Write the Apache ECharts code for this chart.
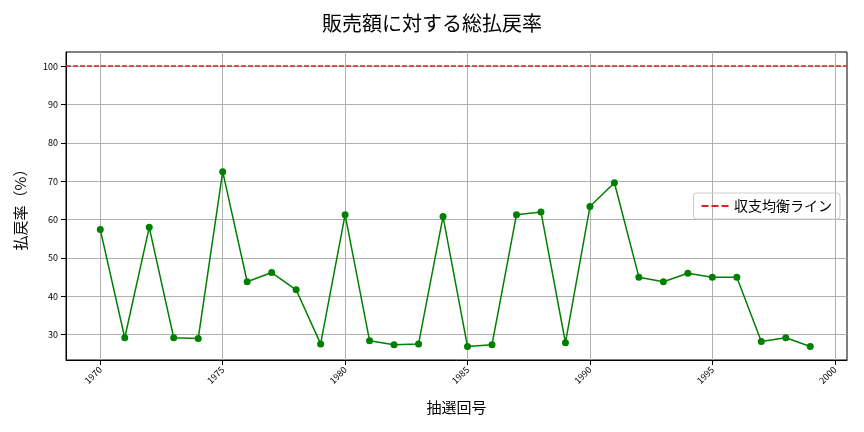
<!DOCTYPE html>
<html><head><meta charset="utf-8">
<script src="https://cdn.jsdelivr.net/npm/echarts@6/dist/echarts.min.js"></script>
<style>html,body{margin:0;padding:0;background:#fff}#c{width:864px;height:432px}</style>
</head><body><div id="c"></div>
<script>
var years = [];
for (var y = 1970; y <= 1999; y++) years.push(y);
var payoutRate = [57.4, 29.2, 58.0, 29.2, 29.0, 72.5, 43.8, 46.2, 41.7, 27.6,
  61.3, 28.4, 27.4, 27.6, 60.8, 26.9, 27.4, 61.3, 62.0, 27.9,
  63.4, 69.6, 45.0, 43.8, 46.0, 45.0, 45.0, 28.2, 29.2, 26.9];
var yTicks = [30, 40, 50, 60, 70, 80, 90, 100];
var xTicks = [1970, 1975, 1980, 1985, 1990, 1995, 2000];
var breakEven = 100;

var font = '"Noto Sans CJK JP", sans-serif';
var chart = echarts.init(document.getElementById('c'));
chart.setOption({
  animation: false,
  textStyle: { fontFamily: font },
  title: { text: '販売額に対する総払戻率', left: 'center', top: 8,
    textStyle: { fontSize: 20, fontWeight: 'normal', color: '#000', fontFamily: font } },
  grid: { left: 66, right: 17, top: 52, bottom: 72, show: true, borderColor: '#000', borderWidth: 1 },
  legend: {
    data: [{ name: '収支均衡ライン',
      icon: 'path://M0,0H7V2H0Z M10,0H17V2H10Z M20,0H27V2H20Z' }],
    right: 24, top: 193, orient: 'vertical',
    itemWidth: 28, itemHeight: 2, itemGap: 5, padding: [6, 8],
    borderColor: '#ccc', borderWidth: 1, borderRadius: 3,
    textStyle: { fontSize: 14, color: '#000', fontFamily: font }
  },
  xAxis: {
    type: 'value', min: 1968.6, max: 2000.5,
    name: '抽選回号', nameLocation: 'middle', nameGap: 40,
    nameTextStyle: { fontSize: 15, color: '#000', fontFamily: font },
    axisLine: { onZero: false, lineStyle: { color: '#000' } },
    axisTick: { show: true, customValues: xTicks, lineStyle: { color: '#000' } },
    axisLabel: { customValues: xTicks, rotate: 45, fontSize: 9, color: '#000',
      formatter: function (v) { return String(v); } },
    splitLine: { show: true, lineStyle: { color: '#b0b0b0' } }
  },
  yAxis: {
    type: 'value', min: 23.4, max: 103.7,
    name: '払戻率（%）', nameLocation: 'middle', nameGap: 38,
    nameTextStyle: { fontSize: 15, color: '#000', fontFamily: font },
    axisLine: { show: true, lineStyle: { color: '#000' } },
    axisTick: { show: true, customValues: yTicks, lineStyle: { color: '#000' } },
    axisLabel: { customValues: yTicks, fontSize: 9, color: '#000' },
    splitLine: { show: true, lineStyle: { color: '#b0b0b0' } }
  },
  series: [
    {
      name: '払戻率', type: 'line', color: 'green',
      data: years.map(function (y, i) { return [y, payoutRate[i]]; }),
      symbol: 'circle', symbolSize: 7, lineStyle: { width: 1.5 }
    },
    {
      name: '収支均衡ライン', type: 'line', data: [], symbol: 'none',
      color: '#e02020', lineStyle: { type: 'dashed', width: 1.5 },
      markLine: { silent: true, symbol: 'none', label: { show: false },
        lineStyle: { type: [5, 2], color: '#e02020', width: 1.5 },
        data: [{ yAxis: breakEven }] }
    }
  ]
});
</script></body></html>
